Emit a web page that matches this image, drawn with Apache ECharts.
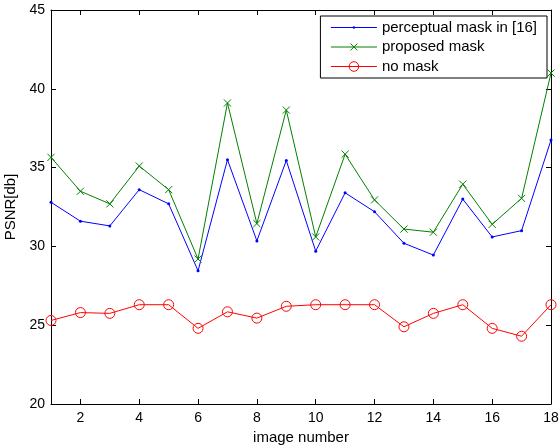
<!DOCTYPE html>
<html><head><meta charset="utf-8">
<script src="https://cdn.jsdelivr.net/npm/echarts@6/dist/echarts.min.js"></script>
<style>html,body{margin:0;padding:0;background:#fff}#c{width:560px;height:448px}</style>
</head><body><div id="c"></div>
<script>
const imageNumbers = [1,2,3,4,5,6,7,8,9,10,11,12,13,14,15,16,17,18];
const perceptual = [32.8,31.6,31.3,33.6,32.7,28.45,35.5,30.35,35.45,29.7,33.4,32.2,30.2,29.45,33.0,30.6,31.0,36.75];
const proposed = [35.65,33.5,32.7,35.1,33.6,29.2,39.1,31.45,38.65,30.6,35.85,32.95,31.1,30.9,33.95,31.4,33.05,41.0];
const noMask = [25.3,25.8,25.75,26.3,26.3,24.8,25.85,25.45,26.2,26.3,26.3,26.3,24.9,25.75,26.3,24.8,24.3,26.3];
const xTicks = [2,4,6,8,10,12,14,16,18];
const seriesNames = ['perceptual mask in [16]','proposed mask','no mask'];

const font = 'Liberation Sans, Arial, Helvetica, sans-serif';
const pair = arr => arr.map((v,i)=>[imageNumbers[i], v]);
const chart = echarts.init(document.getElementById('c'), null, {renderer:'canvas'});
const axisLine = {show:true, lineStyle:{color:'#000', width:1}};
const dotSym = 'path://M0,0M16,16M6,8a2,2 0 1,0 4,0a2,2 0 1,0 -4,0Z';
const crossSym = 'path://M-2,-2M12,12M0,0L10,10M10,0L0,10';
chart.setOption({
  animation:false,
  textStyle:{fontFamily:font},
  grid:{left:51, right:9, top:10, bottom:44, containLabel:false, outerBoundsMode:'none'},
  legend:{
    orient:'vertical', right:13, top:16,
    backgroundColor:'#fff', borderColor:'#000', borderWidth:1, borderRadius:0,
    padding:[4,10,4,10], itemWidth:46, itemHeight:12, itemGap:4.5,
    itemStyle:{borderWidth:1},
    lineStyle:{width:1},
    textStyle:{fontFamily:font, fontSize:15, lineHeight:15, color:'#000'},
    data:seriesNames
  },
  xAxis:[{
    type:'value', min:1, max:18, position:'bottom',
    name:'image number', nameLocation:'middle', nameGap:25,
    nameTextStyle:{fontFamily:font, fontSize:15, color:'#000'},
    axisLine:axisLine, splitLine:{show:false},
    axisTick:{show:true, inside:true, length:5, customValues:xTicks, lineStyle:{color:'#000'}},
    axisLabel:{customValues:xTicks, fontFamily:font, fontSize:14, color:'#000', margin:7}
  },{
    type:'value', min:1, max:18, position:'top',
    axisLine:axisLine, splitLine:{show:false},
    axisTick:{show:true, inside:true, length:5, customValues:xTicks, lineStyle:{color:'#000'}},
    axisLabel:{show:false}
  }],
  yAxis:[{
    type:'value', min:20, max:45, interval:5, position:'left',
    name:'PSNR[db]', nameLocation:'middle', nameGap:25,
    nameTextStyle:{fontFamily:font, fontSize:15, color:'#000'},
    axisLine:axisLine, splitLine:{show:false},
    axisTick:{show:true, inside:true, length:5, lineStyle:{color:'#000'}},
    axisLabel:{fontFamily:font, fontSize:14, color:'#000', margin:6}
  },{
    type:'value', min:20, max:45, interval:5, position:'right',
    axisLine:axisLine, splitLine:{show:false},
    axisTick:{show:true, inside:true, length:5, lineStyle:{color:'#000'}},
    axisLabel:{show:false}
  }],
  series:[
    {name:seriesNames[0], type:'line', data:pair(perceptual),
     symbol:dotSym, symbolSize:12, color:'#0000ff',
     lineStyle:{width:1, color:'#0000ff'}, itemStyle:{color:'#0000ff', borderWidth:0}},
    {name:seriesNames[1], type:'line', data:pair(proposed),
     symbol:crossSym, symbolSize:10, color:'#008000',
     lineStyle:{width:1, color:'#008000'},
     itemStyle:{color:'none', borderColor:'#008000', borderWidth:1}},
    {name:seriesNames[2], type:'line', data:pair(noMask),
     symbol:'circle', symbolSize:10, color:'#ff0000',
     lineStyle:{width:1, color:'#ff0000'},
     itemStyle:{color:'none', borderColor:'#ff0000', borderWidth:1}}
  ]
});
</script></body></html>
